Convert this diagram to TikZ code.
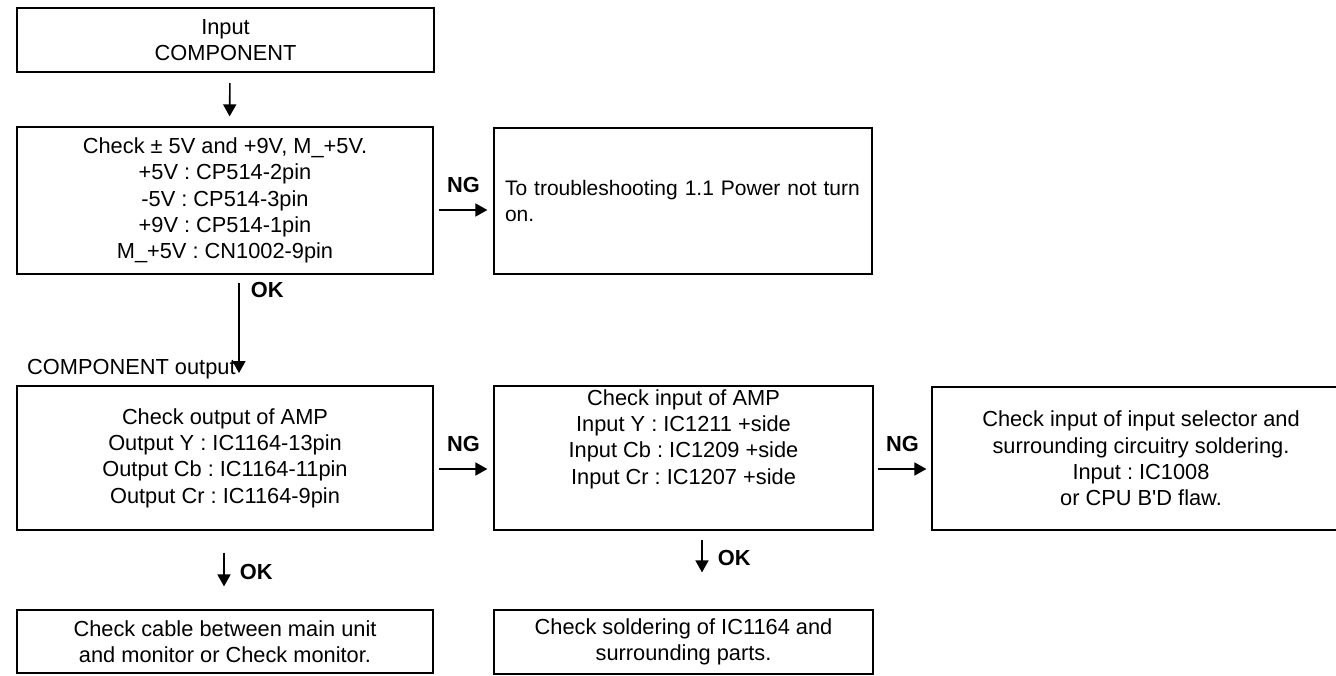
\documentclass[tikz,border=0pt]{standalone}
\usepackage{fontspec}
\setmainfont{Liberation Sans}
\usetikzlibrary{arrows.meta}
\frenchspacing
\newcommand{\flowfont}{\fontsize{10.9}{13.2}\selectfont}
\tikzset{
  stepbox/.style={draw, line width=0.6pt, align=center, inner sep=0pt, font=\flowfont},
  flowarrow/.style={line width=0.8pt, -{Triangle[length=6pt,width=6.5pt]}},
  tag/.style={font=\flowfont\bfseries, inner sep=0pt},
}

\begin{document}
\begin{tikzpicture}[x=0.5pt,y=-0.5pt]
\useasboundingbox (0,0) rectangle (1336,675);

%first column
\node[stepbox, line width=1.1pt, minimum width=208.5pt, minimum height=32pt] (input) at (225.5,40) {Input\\COMPONENT};
\node[stepbox, minimum width=208pt, minimum height=73.5pt] (power) at (225,200.5)
  {Check ± 5V and +9V, M\_+5V.\\+5V : CP514-2pin\\-5V : CP514-3pin\\+9V : CP514-1pin\\M\_+5V : CN1002-9pin};
\node[stepbox, align=left, font=\fontsize{10.5}{13}\selectfont, text width=178pt, inner xsep=5.5pt, minimum height=73pt] (notturn) at (683,201)
  {\mbox{To troubleshooting 1.1 Power not turn}\\on.};
\node[font=\flowfont, anchor=base east, inner sep=0pt] (compout) at (236,374) {COMPONENT output};
\coordinate (okend) at (239,373);

%amp row
\node[stepbox, minimum width=208pt, minimum height=72pt] (ampout) at (225,458)
  {Check output of AMP\\Output Y : IC1164-13pin\\Output Cb : IC1164-11pin\\Output Cr : IC1164-9pin};
\node[stepbox, minimum width=189.5pt, minimum height=72pt] (ampin) at (683.5,458)
  {Check input of AMP\\Input Y : IC1211 +side\\Input Cb : IC1209 +side\\Input Cr : IC1207 +side\\[4pt]\strut};
\node[stepbox, minimum width=209pt, minimum height=71.5pt] (selector) at (1141,458.5)
  {Check input of input selector and\\surrounding circuitry soldering.\\Input : IC1008\\or CPU B\textquotesingle D flaw.};

%last row
\node[stepbox, minimum width=208pt, minimum height=31.5pt] (cable) at (225,641.5)
  {Check cable between main unit\\and monitor or Check monitor.};
\node[stepbox, minimum width=189.5pt, minimum height=32pt] (solder) at (683.5,642)
  {Check soldering of IC1164 and\\surrounding parts.};

%arrows
\draw[flowarrow, shorten <=5pt, shorten >=5pt] ([xshift=2.25pt]input.south) -- ([xshift=2.25pt]power.north);
\draw[flowarrow, shorten <=2.5pt, shorten >=3pt] ([yshift=-4.75pt]power.east) -- ([yshift=-4.75pt]power.east -| notturn.west)
  node[tag, midway, above=8pt] {NG};
\draw[flowarrow, shorten <=4pt] (power.south -| okend) -- (okend)
  node[tag, pos=0.16, right=5.5pt] {OK};
\draw[flowarrow, shorten <=2.5pt, shorten >=3pt] ([yshift=-5.5pt]ampout.east) -- ([yshift=-5.5pt]ampin.west)
  node[tag, midway, above=8pt] {NG};
\draw[flowarrow, shorten <=2pt, shorten >=2.5pt] ([yshift=-5.5pt]ampin.east) -- ([yshift=-5.5pt]ampin.east -| selector.west)
  node[tag, midway, above=8pt] {NG};
\draw[flowarrow, shorten <=11pt, shorten >=11.5pt] ([xshift=-0.5pt]ampout.south) -- ([xshift=-0.5pt]cable.north)
  node[tag, pos=0.525, right=7.5pt] {OK};
\draw[flowarrow, shorten <=4.5pt, shorten >=18.5pt] ([xshift=9.25pt]ampin.south) -- ([xshift=9.25pt]solder.north)
  node[tag, pos=0.35, right=7.5pt] {OK};
\end{tikzpicture}
\end{document}
